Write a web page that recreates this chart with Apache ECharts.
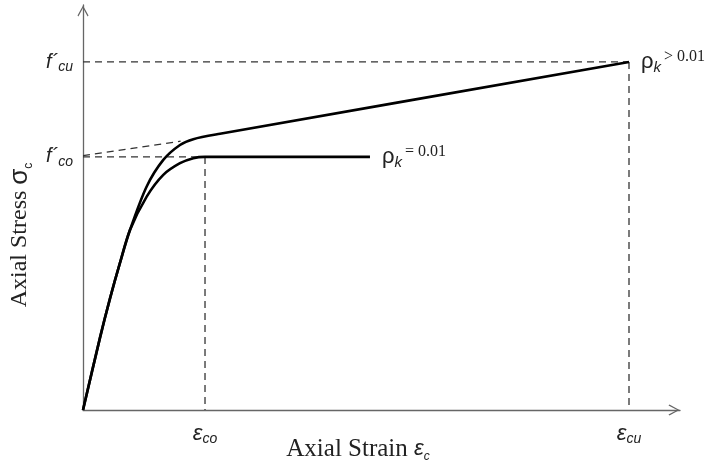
<!DOCTYPE html>
<html><head><meta charset="utf-8">
<script src="https://cdn.jsdelivr.net/npm/echarts@6/dist/echarts.min.js"></script>
<style>html,body{margin:0;padding:0;background:#fff}#c{width:715px;height:465px}</style>
</head><body><div id="c"></div>
<script>
// Normalised units: strain / eps_co, stress / f'co
const strainTicks = [1, 4.475];
const strainTickSubs = ['co', 'cu'];
const stressTicks = [1, 1.375];
const stressTickSubs = ['co', 'cu'];
const axisMax = { x: 4.893, y: 1.6 };

// rho_k = 0.01 curve
const curveLow = [
  [0, 0], [0.139, 0.285], [0.221, 0.44], [0.303, 0.581],
  [0.385, 0.711], [0.522, 0.843], [0.658, 0.929], [0.795, 0.975],
  [0.904, 0.995], [1, 1], [2.352, 1]
];
// rho_k > 0.01 curve
const curveHigh = [
  [0, 0], [0.139, 0.285], [0.221, 0.44], [0.303, 0.581],
  [0.385, 0.711], [0.522, 0.883], [0.658, 0.988], [0.795, 1.047],
  [0.904, 1.070], [1.123, 1.091], [4.475, 1.375]
];
// dashed guide lines
const guideFcu = [[0, 1.375], [4.475, 1.375]];
const guideEcu = [[4.475, 1.375], [4.475, 0]];
const guideFco = [[0, 1], [1, 1]];
const guideEco = [[1, 1], [1, 0]];
const guideSlope = [[0, 1.005], [0.8, 1.062]];

const labelLow = '= 0.01';
const labelHigh = '> 0.01';

const arrow = 'path://M0,0 L6,11 L5,12 L0,2.6 L-5,12 L-6,11 Z';
const axisColor = '#666';
const sans = 'Liberation Sans';
const serif = 'Liberation Serif';

const dashStyle = { color: '#333', width: 1.3, type: [7, 5] };
function guide(data) {
  return { type: 'line', data: data, symbol: 'none', silent: true, z: 1,
    lineStyle: dashStyle, animation: false };
}
const rhoRich = {
  r: { fontFamily: sans, fontSize: 22, color: '#222', lineHeight: 26 },
  k: { fontFamily: sans, fontStyle: 'italic', fontSize: 15, color: '#222', verticalAlign: 'bottom', lineHeight: 26 },
  v: { fontFamily: serif, fontSize: 16, color: '#222', verticalAlign: 'top', lineHeight: 26, padding: [0, 0, 0, 3] }
};
function curve(data, txt) {
  return {
    type: 'line', data: data, symbol: 'none', smooth: 0.3, z: 3,
    lineStyle: { color: '#000', width: 2.6 }, animation: false,
    endLabel: { show: true, distance: 12, formatter: '{r|ρ}{k|k}{v|' + txt + '}', rich: rhoRich }
  };
}

const chart = echarts.init(document.getElementById('c'));
chart.setOption({
  backgroundColor: '#fff',
  animation: false,
  grid: { left: 83, right: 35, top: 5, bottom: 55, containLabel: false, outerBoundsMode: 'none' },
  xAxis: {
    type: 'value', min: 0, max: axisMax.x,
    splitLine: { show: false }, axisTick: { show: false },
    axisLine: { lineStyle: { color: axisColor, width: 1.3 }, symbol: ['none', arrow], symbolSize: [11, 12], symbolOffset: [0, -6] },
    axisLabel: {
      customValues: strainTicks, margin: 12,
      formatter: function (v) { const i = strainTicks.indexOf(v); return '{e|ε}{s|' + strainTickSubs[i] + '}'; },
      rich: {
        e: { fontFamily: sans, fontStyle: 'italic', fontSize: 22, color: '#222', lineHeight: 24 },
        s: { fontFamily: sans, fontStyle: 'italic', fontSize: 14, color: '#222', verticalAlign: 'bottom', lineHeight: 24 }
      }
    },
    name: '{t|Axial Strain }{e|ε}{s|c}', nameLocation: 'middle', nameGap: 25, nameMoveOverlap: false,
    nameTextStyle: {
      padding: [0, 47, 0, 0],
      rich: {
        t: { fontFamily: serif, fontSize: 25, color: '#222', lineHeight: 28 },
        e: { fontFamily: sans, fontStyle: 'italic', fontSize: 22, color: '#222', lineHeight: 28 },
        s: { fontFamily: sans, fontStyle: 'italic', fontSize: 12, color: '#222', verticalAlign: 'bottom', lineHeight: 28 }
      }
    }
  },
  yAxis: {
    type: 'value', min: 0, max: axisMax.y,
    splitLine: { show: false }, axisTick: { show: false },
    axisLine: { lineStyle: { color: axisColor, width: 1.3 }, symbol: ['none', arrow], symbolSize: [11, 12], symbolOffset: [0, -6] },
    axisLabel: {
      customValues: stressTicks, margin: 10,
      formatter: function (v) { const i = stressTicks.indexOf(v); return '{f|f´}{s|' + stressTickSubs[i] + '}'; },
      rich: {
        f: { fontFamily: sans, fontStyle: 'italic', fontSize: 20, color: '#222', lineHeight: 24 },
        s: { fontFamily: sans, fontStyle: 'italic', fontSize: 14, color: '#222', verticalAlign: 'bottom', lineHeight: 24 }
      }
    },
    name: '{t|Axial Stress }{g|σ}{s|c}', nameLocation: 'middle', nameGap: 48, nameMoveOverlap: false,
    nameTextStyle: {
      padding: [0, 55, 0, 0],
      rich: {
        t: { fontFamily: serif, fontSize: 24, color: '#222', lineHeight: 30 },
        g: { fontFamily: sans, fontSize: 26, color: '#222', lineHeight: 30 },
        s: { fontFamily: sans, fontSize: 12, color: '#222', verticalAlign: 'bottom', lineHeight: 30 }
      }
    }
  },
  series: [
    guide(guideFcu), guide(guideEcu), guide(guideFco), guide(guideEco), guide(guideSlope),
    curve(curveLow, labelLow),
    curve(curveHigh, labelHigh)
  ]
});
</script></body></html>
